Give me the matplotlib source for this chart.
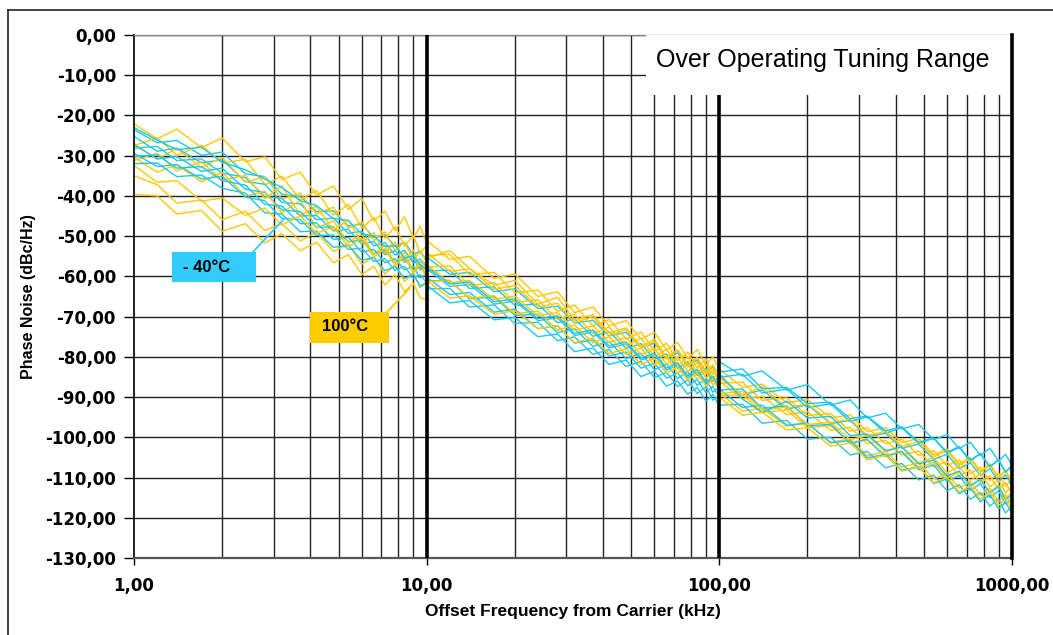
import numpy as np
import matplotlib
matplotlib.use("Agg")
import matplotlib.pyplot as plt
from matplotlib.ticker import FuncFormatter, FixedLocator, NullFormatter
from matplotlib.lines import Line2D
from matplotlib.patches import Rectangle

plt.rcParams['font.family'] = ['Liberation Sans', 'DejaVu Sans']

# offset frequencies inside one decade (kHz), sweeps are 1-10, 10-100, 100-1000
dec_f = [1.0, 1.2, 1.4, 1.7, 2.0, 2.4, 2.8, 3.2, 3.7, 4.2, 4.8, 5.4, 6.0, 6.6, 7.2, 7.8, 8.4, 9.0, 9.5, 10.0]
decades = [1, 10, 100]

# phase noise (dBc/Hz), -40°C traces
cyan_d1 = [
    [-23.5, -26.8, -26.2, -29.9, -29.1, -34.5, -35.2, -39.6, -40.1, -43.9, -43.7, -47.5, -47.0, -50.3, -49.6, -52.6, -51.5, -54.6, -53.7, -56.0],
    [-25.2, -28.9, -28.1, -31.8, -31.0, -36.4, -37.1, -41.6, -42.0, -45.9, -45.5, -49.3, -48.8, -52.4, -51.6, -54.7, -53.5, -56.6, -55.7, -57.8],
    [-28.1, -27.7, -31.2, -30.8, -34.3, -35.4, -40.2, -40.6, -45.0, -44.8, -48.7, -48.3, -52.0, -51.3, -54.6, -53.6, -56.5, -55.5, -58.4, -57.6],
    [-27.3, -30.8, -30.2, -33.9, -33.1, -38.3, -39.2, -43.5, -43.9, -47.8, -47.7, -51.4, -51.0, -54.3, -53.6, -56.5, -55.6, -58.5, -57.6, -59.7],
    [-30.2, -29.8, -33.1, -32.7, -36.2, -37.3, -42.1, -42.5, -46.9, -46.7, -50.8, -50.3, -54.0, -53.3, -56.6, -55.6, -58.4, -57.5, -60.4, -59.3],
    [-29.4, -32.7, -32.2, -35.8, -35.1, -40.3, -41.2, -45.6, -45.9, -49.8, -49.7, -53.3, -53.0, -56.3, -55.6, -58.5, -57.5, -60.5, -59.6, -61.6],
    [-32.0, -31.8, -35.2, -34.8, -38.1, -39.3, -44.2, -44.5, -48.9, -48.7, -52.8, -52.3, -56.0, -55.3, -58.6, -57.5, -60.5, -59.5, -62.4, -61.5],
    [-23.0, -26.1, -28.5, -27.9, -31.6, -33.5, -35.8, -37.9, -41.2, -42.4, -45.6, -46.1, -49.5, -49.9, -52.6, -52.3, -55.4, -54.9, -57.1, -58.3],
]
cyan_d2 = [
    [-55.2, -59.5, -59.0, -63.8, -63.1, -68.0, -67.4, -71.6, -70.9, -74.8, -73.9, -77.7, -76.6, -80.3, -79.0, -82.2, -80.8, -83.9, -82.5, -85.0],
    [-58.6, -58.5, -63.0, -62.6, -67.2, -66.9, -71.5, -70.6, -74.9, -73.7, -77.9, -76.7, -80.6, -79.3, -82.9, -81.2, -84.6, -82.9, -86.1, -85.0],
    [-58.1, -62.5, -62.0, -66.9, -66.1, -71.0, -70.3, -74.7, -73.8, -77.8, -76.8, -80.8, -79.6, -83.3, -82.0, -85.2, -83.6, -86.9, -85.3, -88.0],
    [-61.1, -61.0, -65.6, -65.1, -69.7, -69.4, -74.0, -73.0, -77.4, -76.2, -80.4, -79.1, -83.2, -81.8, -85.4, -83.7, -87.1, -85.4, -88.8, -87.5],
    [-60.2, -64.5, -64.0, -68.9, -68.1, -73.0, -72.3, -76.6, -75.8, -79.8, -78.8, -82.8, -81.6, -85.3, -84.0, -87.2, -85.6, -88.9, -87.3, -90.0],
    [-63.1, -63.0, -67.6, -67.1, -71.7, -71.4, -76.0, -75.0, -79.4, -78.2, -82.4, -81.1, -85.2, -83.8, -87.4, -85.7, -89.1, -87.4, -90.8, -89.6],
    [-62.2, -66.6, -66.0, -70.8, -70.2, -75.0, -74.3, -78.7, -77.8, -81.9, -80.8, -84.9, -83.6, -87.3, -86.0, -89.3, -87.6, -91.0, -89.3, -92.3],
    [-57.6, -61.9, -61.4, -66.3, -65.6, -70.5, -69.8, -74.2, -73.3, -77.3, -76.3, -80.3, -79.1, -82.8, -81.5, -84.7, -83.1, -86.4, -84.8, -87.6],
]
cyan_d3 = [
    [-81.2, -84.8, -83.5, -88.3, -86.9, -92.0, -90.7, -95.2, -94.0, -97.9, -96.8, -100.6, -99.3, -102.8, -101.2, -104.5, -102.7, -105.9, -104.2, -107.0],
    [-85.1, -84.3, -89.0, -88.0, -92.6, -91.7, -96.1, -94.9, -99.0, -97.6, -101.6, -100.2, -104.0, -102.5, -105.9, -104.1, -107.4, -105.6, -108.7, -107.2],
    [-85.0, -89.5, -88.2, -93.0, -91.9, -96.6, -95.8, -99.9, -99.0, -102.7, -101.7, -105.5, -104.2, -107.8, -106.3, -109.5, -107.8, -111.0, -109.3, -112.0],
    [-88.2, -88.0, -92.8, -92.2, -97.1, -96.8, -101.5, -100.5, -104.8, -103.6, -108.0, -106.9, -111.0, -109.5, -113.2, -111.5, -115.0, -113.3, -116.6, -115.3],
    [-88.0, -92.6, -92.0, -97.0, -96.4, -101.4, -100.8, -105.1, -104.2, -108.2, -107.3, -111.5, -110.3, -114.0, -112.6, -116.0, -114.3, -117.8, -116.1, -118.8],
    [-92.0, -91.8, -96.5, -95.8, -100.5, -100.0, -104.4, -103.5, -107.6, -106.5, -110.6, -109.4, -113.3, -111.8, -115.4, -113.7, -117.1, -115.3, -118.8, -117.2],
    [-84.2, -90.5, -93.8, -91.0, -95.2, -94.8, -99.6, -99.2, -103.3, -102.4, -106.6, -105.7, -109.6, -108.4, -112.0, -110.5, -113.8, -112.2, -115.6, -114.2],
    [-83.8, -83.0, -87.9, -87.6, -91.6, -91.3, -95.4, -94.7, -98.4, -97.4, -101.2, -100.2, -103.7, -102.3, -105.7, -104.0, -107.2, -105.6, -108.6, -107.0],
]

# 100°C traces
yellow_d1 = [
    [-22.1, -25.8, -23.4, -28.0, -25.6, -31.5, -30.3, -35.9, -34.1, -39.8, -37.5, -43.4, -40.6, -46.3, -43.8, -48.6, -45.2, -50.5, -47.6, -51.8],
    [-27.5, -25.6, -29.9, -27.4, -31.8, -30.9, -37.2, -35.1, -41.0, -38.6, -44.8, -42.1, -48.0, -45.3, -50.6, -47.6, -52.5, -49.8, -54.3, -52.2],
    [-27.0, -30.9, -28.2, -33.0, -30.4, -36.6, -35.2, -40.8, -39.3, -44.5, -42.8, -48.0, -46.4, -51.1, -48.9, -53.6, -51.5, -55.9, -53.8, -56.4],
    [-31.2, -29.4, -33.8, -31.5, -36.1, -34.9, -40.7, -37.5, -44.8, -42.6, -48.5, -46.0, -51.7, -49.1, -54.3, -51.5, -56.2, -53.4, -58.1, -56.0],
    [-30.4, -34.1, -32.2, -36.5, -34.1, -40.0, -38.9, -44.3, -41.0, -48.0, -46.2, -51.6, -49.5, -54.6, -52.2, -56.8, -54.0, -58.7, -56.3, -60.0],
    [-35.0, -37.2, -41.8, -41.0, -45.9, -43.8, -48.6, -46.9, -51.2, -49.0, -53.8, -52.0, -57.0, -55.1, -59.4, -57.2, -61.3, -59.0, -62.8, -61.5],
    [-39.6, -40.0, -44.5, -43.6, -48.8, -46.9, -51.7, -49.4, -53.6, -51.5, -56.6, -54.6, -59.5, -57.5, -62.1, -59.6, -63.8, -61.7, -65.3, -65.8],
    [-32.4, -36.6, -36.2, -41.3, -40.5, -44.8, -43.0, -47.2, -44.9, -49.3, -47.7, -52.6, -50.5, -55.2, -53.1, -57.4, -55.0, -59.2, -57.0, -60.5],
]
yellow_d2 = [
    [-51.0, -55.8, -55.0, -60.5, -59.4, -65.0, -63.8, -69.0, -67.6, -72.3, -71.0, -75.6, -73.9, -78.3, -76.4, -80.4, -78.2, -82.1, -80.0, -83.2],
    [-54.8, -54.5, -59.6, -59.0, -64.1, -63.4, -68.7, -67.1, -72.3, -70.7, -75.6, -73.8, -78.6, -76.6, -81.0, -78.8, -82.8, -80.5, -84.4, -82.6],
    [-54.0, -58.8, -58.1, -63.2, -62.3, -67.6, -66.7, -71.5, -70.0, -74.7, -73.2, -77.9, -76.2, -80.5, -78.4, -82.5, -80.2, -84.3, -82.1, -85.3],
    [-57.7, -57.4, -62.3, -61.5, -66.5, -65.8, -70.7, -69.4, -74.2, -72.6, -77.2, -75.4, -80.0, -78.1, -82.3, -80.0, -84.0, -81.7, -85.5, -83.8],
    [-57.0, -61.6, -61.0, -65.7, -64.9, -69.8, -69.0, -73.4, -72.3, -76.4, -75.2, -79.5, -77.9, -81.8, -80.0, -83.6, -81.4, -85.3, -83.2, -86.2],
    [-61.3, -61.0, -65.4, -64.8, -69.3, -68.6, -73.4, -72.1, -76.5, -75.0, -79.4, -77.7, -82.1, -80.0, -84.1, -81.8, -85.6, -83.4, -87.0, -85.4],
    [-61.0, -65.4, -64.8, -69.4, -68.5, -73.0, -72.2, -76.5, -75.3, -79.2, -78.0, -81.9, -80.4, -84.0, -82.6, -85.8, -84.0, -87.2, -85.6, -88.2],
    [-55.5, -53.6, -58.0, -62.2, -61.0, -66.9, -65.2, -70.8, -69.5, -74.0, -72.8, -77.4, -75.6, -80.1, -78.2, -82.0, -80.1, -83.8, -82.0, -85.0],
]
yellow_d3 = [
    [-83.0, -87.6, -86.8, -91.4, -90.6, -95.2, -94.4, -98.6, -97.6, -101.3, -100.3, -104.3, -102.9, -106.6, -105.0, -108.4, -106.6, -110.0, -108.2, -111.0],
    [-86.6, -86.3, -90.8, -90.2, -94.6, -94.1, -98.5, -97.6, -101.6, -100.4, -104.5, -103.3, -107.1, -105.6, -109.1, -107.4, -110.7, -108.9, -112.2, -110.6],
    [-86.0, -90.5, -89.8, -94.4, -93.6, -98.3, -97.5, -101.6, -100.7, -104.4, -103.4, -107.3, -106.0, -109.6, -108.1, -111.4, -109.6, -113.0, -111.2, -114.0],
    [-89.6, -89.4, -93.8, -93.2, -97.6, -97.1, -101.5, -100.6, -104.6, -103.4, -107.5, -106.3, -110.1, -108.6, -112.1, -110.4, -113.7, -111.9, -115.2, -113.6],
    [-89.0, -93.5, -92.8, -97.2, -96.6, -101.2, -100.4, -104.6, -103.5, -107.4, -106.4, -110.3, -109.0, -112.6, -111.1, -114.4, -112.6, -116.0, -114.2, -116.8],
    [-85.0, -89.6, -87.4, -92.8, -91.6, -96.4, -95.5, -99.6, -98.5, -102.2, -101.1, -104.8, -103.4, -107.0, -105.4, -108.7, -107.0, -110.1, -108.4, -111.2],
    [-89.1, -88.6, -93.2, -92.5, -96.8, -96.3, -100.6, -99.6, -103.6, -102.3, -106.3, -105.1, -108.8, -107.2, -110.8, -109.0, -112.3, -110.5, -113.8, -112.2],
    [-90.0, -94.5, -93.8, -98.2, -97.6, -102.2, -101.4, -105.6, -104.5, -108.4, -107.4, -111.3, -110.0, -113.6, -112.1, -115.4, -113.6, -117.0, -115.2, -117.8],
]

yticks = list(range(-130, 1, 10))
xticks = [1, 10, 100, 1000]

YEL = '#FFC800'
CYA = ['#18C8F2', '#18C8F2', '#33C4D8', '#18C8F2', '#18C8F2', '#33C4D8', '#18C8F2', '#18C8F2']

fig = plt.figure(figsize=(10.53, 6.35), dpi=100)
ax = fig.add_axes([134/1053, 1 - 558/635, 878/1053, 523/635])
ax.set_xscale('log')
ax.set_xlim(1, 1000)
ax.set_ylim(-130, 0)

# grid
ax.set_yticks(yticks)
ax.yaxis.set_major_formatter(FuncFormatter(lambda v, p: f"{v:.2f}".replace('.', ',')))
ax.xaxis.set_major_locator(FixedLocator(xticks))
ax.xaxis.set_major_formatter(FuncFormatter(lambda v, p: f"{v:.2f}".replace('.', ',')))
minor = [m * d for d in [1, 10, 100] for m in range(2, 10)]
ax.xaxis.set_minor_locator(FixedLocator(minor))
ax.xaxis.set_minor_formatter(NullFormatter())
ax.grid(True, which='major', axis='y', color='#222222', lw=1.0)
ax.grid(True, which='minor', axis='x', color='#222222', lw=1.0)
ax.tick_params(axis='x', which='minor', length=0)
ax.tick_params(axis='x', which='major', length=5, width=1, pad=9)
ax.tick_params(axis='y', length=7, width=1, pad=6)
for lab in ax.get_xticklabels() + ax.get_yticklabels():
    lab.set_fontfamily('DejaVu Sans')
    lab.set_fontweight('bold')
    lab.set_fontsize(12)

# box behind the title text hides the grid and the 100 kHz line
ax.add_patch(Rectangle((0.583, 0.885), 0.417, 0.115, transform=ax.transAxes,
                       facecolor='white', edgecolor='none', zorder=4.5))
ax.text(0.785, 0.953, "Over Operating Tuning Range", transform=ax.transAxes,
        ha='center', va='center', fontsize=18, zorder=4.6)

# traces
for k, d in enumerate(decades):
    f = np.array(dec_f) * d
    ylist = [yellow_d1, yellow_d2, yellow_d3][k]
    clist = [cyan_d1, cyan_d2, cyan_d3][k]
    for i in range(len(ylist)):
        ax.plot(f, ylist[i], color=YEL, lw=1.0, zorder=2)
        ax.plot(f, clist[i], color=CYA[i], lw=1.0, zorder=2)

# thick decade lines
for d in [10, 100]:
    ax.axvline(d, color='black', lw=2.6, zorder=4)

ax.spines['left'].set_color('#222222')
ax.spines['left'].set_linewidth(1.4)
ax.spines['bottom'].set_color('#555555')
ax.spines['bottom'].set_linewidth(1.6)
ax.spines['top'].set_color('#888888')
ax.spines['top'].set_linewidth(1.0)
ax.spines['right'].set_color('black')
ax.spines['right'].set_linewidth(2.6)
ax.spines['right'].set_zorder(5)

# callouts
ax.add_patch(Rectangle((0.0433, 0.5277), 0.0957, 0.0574, transform=ax.transAxes,
                       facecolor='#33CCFF', edgecolor='none', zorder=6))
ax.text(0.0558, 0.556, "- 40°C", transform=ax.transAxes, ha='left', va='center',
        fontsize=12, fontweight='bold', zorder=7)
ax.add_line(Line2D([0.1344, 0.1697], [0.5832, 0.6463], transform=ax.transAxes,
                   color='#33CCFF', lw=1.3, zorder=6))
ax.add_patch(Rectangle((0.2005, 0.4111), 0.0899, 0.0593, transform=ax.transAxes,
                       facecolor='#FFCC00', edgecolor='none', zorder=6))
ax.text(0.2141, 0.4417, "100°C", transform=ax.transAxes, ha='left', va='center',
        fontsize=12, fontweight='bold', zorder=7)
ax.add_line(Line2D([0.2882, 0.3144], [0.4704, 0.5163], transform=ax.transAxes,
                   color='#FFCC00', lw=1.3, zorder=6))

ax.set_xlabel("Offset Frequency from Carrier (kHz)", fontsize=12.5, fontweight='bold', labelpad=6)
ax.set_ylabel("Phase Noise (dBc/Hz)", fontsize=11.5, fontweight='bold')
ax.yaxis.set_label_coords(-0.112, 0.5)

# outer chart frame (left and top edges visible)
fig.add_artist(Line2D([8/1053, 8/1053], [0, 1 - 10/635], color='#222222', lw=1.2))
fig.add_artist(Line2D([8/1053, 1], [1 - 10/635, 1 - 10/635], color='#222222', lw=1.2))

fig.savefig('out.png', dpi=100)
